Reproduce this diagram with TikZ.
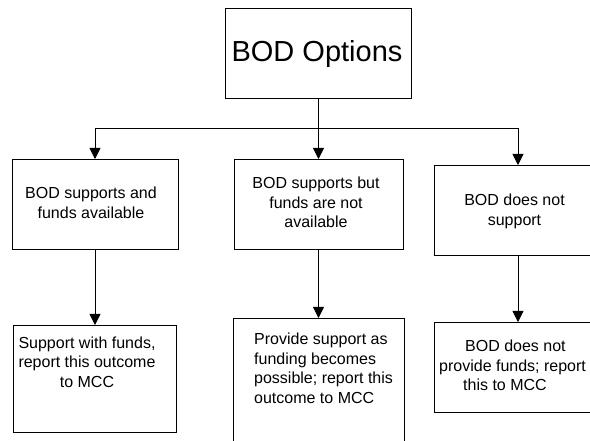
\documentclass[tikz,border=0pt]{standalone}
\usepackage{fontspec}
\setmainfont{Liberation Sans}
\usetikzlibrary{arrows.meta}
\begin{document}
\begin{tikzpicture}[x=1pt,y=-1pt,
  box/.style={draw, line width=0.8pt, rectangle, inner sep=0pt, outer sep=0pt},
  txt/.style={font=\fontsize{16}{19.5}\selectfont, align=center, inner sep=0pt},
  txtl/.style={font=\fontsize{16}{19.5}\selectfont, align=left, inner sep=0pt},
  arr/.style={draw, line width=0.8pt, -{Triangle[width=11pt,length=11pt]}},
  ln/.style={draw, line width=0.8pt}]
\useasboundingbox (0,0) rectangle (590,441);
\clip (0,0) rectangle (590,441);
\fill[white] (0,0) rectangle (590,441);
% boxes
\node[box, minimum width=186pt, minimum height=90pt] (top) at (318.5,53) {};
\node[box, minimum width=166pt, minimum height=90pt] (b1) at (95,204) {};
\node[box, minimum width=169pt, minimum height=90pt] (b2) at (318.5,204) {};
\node[box, minimum width=168pt, minimum height=90pt] (b3) at (518,210) {};
\node[box, minimum width=163pt, minimum height=107pt] (c1) at (95,378.5) {};
\node[box, minimum width=171pt, minimum height=142pt] (c2) at (318.5,389) {};
\node[box, minimum width=168pt, minimum height=90pt] (c3) at (518,367) {};
% texts
\node[inner sep=0pt, font=\fontsize{29}{35}\selectfont, anchor=base] (ttop) at (317,62) {BOD Options};
\node[txt, anchor=north] (tb1) at (91,187) {BOD supports and\\funds available};
\node[txt, anchor=north] (tb2) at (316,177) {BOD supports but\\funds are not\\available};
\node[txt, anchor=north] (tb3) at (514.5,194) {BOD does not\\support};
\node[txt, anchor=north] (tc1) at (87,336.5) {Support with funds,\\report this outcome\\to MCC};
\node[txtl, anchor=north west] (tc2) at (254,333) {Provide support as\\funding becomes\\possible; report this\\outcome to MCC};
\node[txtl, anchor=north west] (tc3) at (439,340) {\hspace*{26pt}BOD does not\\provide funds; report\\\hspace*{24pt}this to MCC};
% connectors
\coordinate (split) at (318.5,128);
\draw[arr] (top.south) -- (b2.north);
\draw[arr] (split) -| (b1.north);
\draw[arr] (split) -| (b3.north);
\draw[arr] (b1.south) -- (c1.north);
\draw[arr] (b2.south) -- (c2.north);
\draw[arr] (b3.south) -- (c3.north);
\end{tikzpicture}
\end{document}
